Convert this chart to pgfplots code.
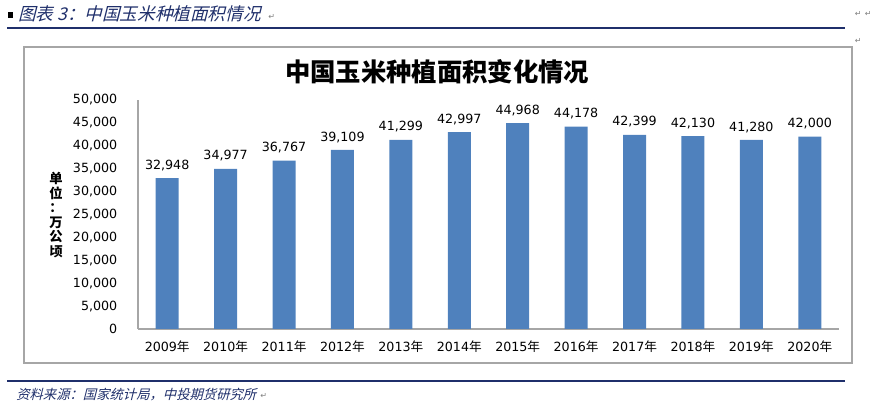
\documentclass[border=0pt]{standalone}
\usepackage{pgfplots}
\pgfplotsset{compat=1.18}
\usepackage{fontspec}
\setmainfont{DejaVu Sans}
\newfontfamily\cjk{Noto Sans CJK SC}
\newfontfamily\cjkit{Noto Sans CJK SC}[FakeSlant=0.25]
\definecolor{barblue}{HTML}{4F81BD}
\definecolor{navy}{HTML}{1F2F6B}
\definecolor{boxgray}{HTML}{A6A6A6}
\begin{document}
\begin{tikzpicture}
\useasboundingbox (0,0) rectangle (666.75pt,309.75pt);
% header
\fill[black] (6pt,296.25pt) rectangle (9.75pt,300.75pt);
\node[anchor=base west, inner sep=0, text=navy, font=\cjkit\fontsize{13.2}{13}\selectfont] at (13.5pt,294pt) {图表 3：中国玉米种植面积情况};
\node[anchor=base west, inner sep=0, text=gray, font=\fontsize{6}{6}\selectfont] at (201pt,295pt) {↵};
\node[anchor=base west, inner sep=0, text=gray, font=\fontsize{6}{6}\selectfont] at (641pt,297pt) {↵};
\node[anchor=base west, inner sep=0, text=gray, font=\fontsize{6}{6}\selectfont] at (648.5pt,297pt) {↵};
\node[anchor=base west, inner sep=0, text=gray, font=\fontsize{6}{6}\selectfont] at (641pt,277pt) {↵};
\draw[navy, line width=1.5pt] (5.25pt,288.75pt) -- (633.75pt,288.75pt);
% chart box
\draw[boxgray, line width=1.5pt] (18pt,37.5pt) rectangle (639pt,274.5pt);
\node[font=\cjk\bfseries\fontsize{19}{19}\selectfont] at (327.75pt,255.75pt) {中国玉米种植面积变化情况};
\node[align=center, font=\cjk\bfseries\fontsize{10}{10.9}\selectfont] at (42pt,148.5pt) {单\\位\\：\\万\\公\\顷};
\begin{axis}[
  at={(103.5pt,63pt)}, anchor=south west,
  scale only axis, width=525.75pt, height=171.75pt,
  xmin=-0.5, xmax=11.5, ymin=0, ymax=50000,
  axis x line*=bottom, axis y line*=left,
  axis line style={draw=gray!70, line width=0.8pt, -},
  ytick={0,5000,...,50000},
  major tick length=0,
  xtick={0,...,11},
  xticklabels={2009{\cjk 年},2010{\cjk 年},2011{\cjk 年},2012{\cjk 年},2013{\cjk 年},2014{\cjk 年},2015{\cjk 年},2016{\cjk 年},2017{\cjk 年},2018{\cjk 年},2019{\cjk 年},2020{\cjk 年}},
  ticklabel style={font=\fontsize{9.5}{10}\selectfont},
  yticklabel style={xshift=-12pt},
  xticklabel style={yshift=-5pt},
  ybar, bar width=17.25pt,
  nodes near coords,
  every node near coord/.append style={font=\fontsize{9.5}{10}\selectfont, yshift=2pt},
  /pgf/number format/1000 sep={,},
  /pgf/number format/assume math mode=true,
  scaled y ticks=false,
]
\addplot[fill=barblue, draw=none] coordinates {
(0,32948) (1,34977) (2,36767) (3,39109) (4,41299) (5,42997)
(6,44968) (7,44178) (8,42399) (9,42130) (10,41280) (11,42000)};
\end{axis}
% footer
\draw[navy, line width=1.5pt] (5.25pt,24pt) -- (633.75pt,24pt);
\node[anchor=base west, inner sep=0, text=navy, font=\cjkit\fontsize{10}{10}\selectfont] at (12pt,9.75pt) {资料来源：国家统计局，中投期货研究所};
\node[anchor=base west, inner sep=0, text=gray, font=\fontsize{6}{6}\selectfont] at (195pt,10.5pt) {↵};
\end{tikzpicture}
\end{document}
